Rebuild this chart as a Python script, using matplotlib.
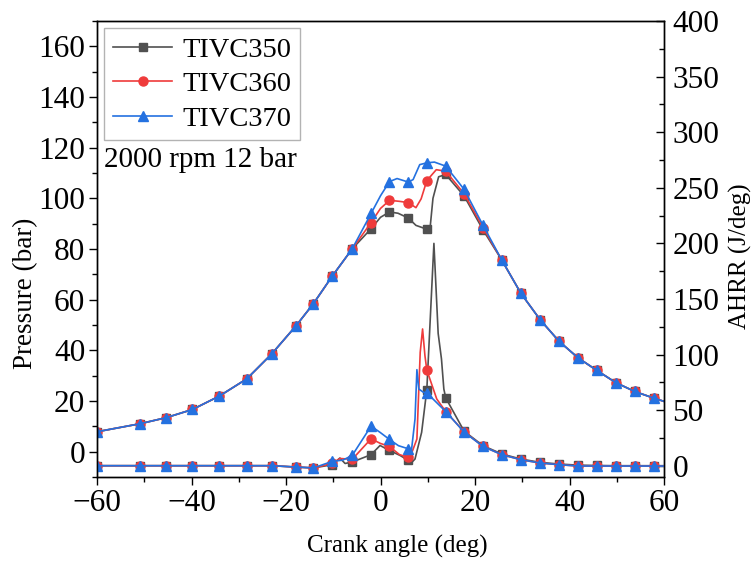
import numpy as np
import matplotlib.pyplot as plt

plt.rcParams['font.family'] = ['Liberation Serif', 'DejaVu Serif']

# crank angles where the markers sit (shared by all three cases)
marks = [-60.0, -50.8, -45.3, -39.8, -34.1, -28.3, -23.0, -17.9, -14.2, -10.2,
         -6.0, -2.0, 1.9, 5.9, 9.8, 13.8, 17.7, 21.7, 25.7, 29.7, 33.8, 37.8,
         41.8, 45.8, 49.8, 53.8, 57.8]

# pressure (bar)
p_ang_350 = [-60.0, -50.8, -45.3, -39.8, -34.1, -28.3, -23.0, -17.9, -14.2, -10.2,
             -6.0, -2.0, 0.0, 1.9, 3.7, 5.9, 7.5, 9.8, 10.5, 11.1, 12.3, 13.8,
             17.7, 21.7, 25.7, 29.7, 33.8, 37.8, 41.8, 45.8, 49.8, 53.8, 57.8, 60.0]
p_350 = [7.8, 11.0, 13.4, 16.6, 21.9, 28.7, 38.6, 49.6, 58.4, 69.3,
         80.0, 88.0, 92.5, 94.6, 94.1, 92.2, 89.3, 87.8, 88.5, 100.0, 108.5, 109.4,
         100.9, 87.5, 75.5, 62.5, 52.0, 43.5, 37.0, 32.0, 27.2, 23.7, 21.1, 19.8]

p_ang_360 = [-60.0, -50.8, -45.3, -39.8, -34.1, -28.3, -23.0, -17.9, -14.2, -10.2,
             -6.0, -2.0, 0.0, 1.9, 4.0, 5.9, 7.5, 8.6, 9.8, 11.8, 13.8,
             17.7, 21.7, 25.7, 29.7, 33.8, 37.8, 41.8, 45.8, 49.8, 53.8, 57.8, 60.0]
p_360 = [7.8, 11.0, 13.4, 16.6, 21.9, 28.7, 38.6, 49.6, 58.4, 69.3,
         80.0, 90.4, 96.0, 99.2, 98.8, 98.3, 96.3, 99.8, 107.0, 111.3, 110.7,
         101.8, 88.4, 75.5, 62.5, 52.0, 43.5, 37.0, 32.0, 27.2, 23.7, 21.1, 19.8]

p_ang_370 = [-60.0, -50.8, -45.3, -39.8, -34.1, -28.3, -23.0, -17.9, -14.2, -10.2,
             -6.0, -2.0, 0.0, 1.9, 3.5, 5.9, 6.9, 8.3, 9.8, 11.4, 13.8,
             17.7, 21.7, 25.7, 29.7, 33.8, 37.8, 41.8, 45.8, 49.8, 53.8, 57.8, 60.0]
p_370 = [7.8, 11.0, 13.4, 16.6, 21.9, 28.7, 38.6, 49.6, 58.4, 69.3,
         80.0, 94.0, 101.0, 106.6, 107.8, 106.4, 107.4, 113.3, 114.0, 114.3, 112.7,
         103.5, 89.3, 75.5, 62.5, 52.0, 43.5, 37.0, 32.0, 27.2, 23.7, 21.1, 19.8]

# apparent heat release rate (J/deg)
h_ang_350 = [-60.0, -50.8, -45.3, -39.8, -34.1, -28.3, -23.0, -17.9, -14.2, -10.2,
             -8.6, -7.5, -6.0, -2.0, -0.1, 1.9, 4.1, 5.9, 6.5, 7.3, 8.7, 9.8,
             11.3, 12.2, 12.9, 13.4, 13.8, 17.7, 21.7, 25.7, 29.7, 33.8, 37.8,
             41.8, 45.8, 49.8, 53.8, 57.8, 60.0]
h_350 = [0, 0, 0, 0, 0, 0, 0, -1.2, -2.0, 0.9,
         6.9, 2.0, 3.3, 9.9, 18.2, 13.7, 9.3, 4.8, 2.5, 6.0, 30.0, 68.4,
         200.0, 119.0, 96.0, 69.0, 61.0, 31.0, 18.0, 10.5, 6.0, 3.0, 1.5,
         0.5, 0.2, 0, 0, 0, 0]

h_ang_360 = [-60.0, -50.8, -45.3, -39.8, -34.1, -28.3, -23.0, -17.9, -14.2, -10.2,
             -8.6, -6.0, -2.0, 0.0, 1.9, 4.0, 5.9, 6.2, 7.7, 8.4, 8.9, 9.4, 9.8,
             11.9, 13.8, 17.7, 21.7, 25.7, 29.7, 33.8, 37.8, 41.8, 45.8, 49.8,
             53.8, 57.8, 60.0]
h_360 = [0, 0, 0, 0, 0, 0, 0, -1.2, -2.0, 2.0,
         6.5, 5.7, 24.2, 20.0, 17.3, 10.0, 7.5, 6.9, 24.0, 102.0, 123.0, 99.0, 86.0,
         60.0, 48.7, 30.5, 17.3, 9.9, 5.4, 2.4, 0.9, -0.3, -0.3, -0.3,
         -0.3, -0.3, -0.3]

h_ang_370 = [-60.0, -50.8, -45.3, -39.8, -34.1, -28.3, -23.0, -17.9, -14.2, -10.2,
             -8.0, -6.0, -2.0, -0.1, 1.9, 3.8, 5.9, 6.5, 7.3, 7.7, 8.1, 9.1, 9.8,
             13.8, 17.7, 21.7, 25.7, 29.7, 33.8, 37.8, 41.8, 45.8, 49.8, 53.8,
             57.8, 60.0]
h_370 = [0, 0, 0, 0, 0, 0, 0, -1.2, -2.0, 3.9,
         5.0, 9.2, 35.6, 30.0, 23.6, 18.0, 15.2, 12.0, 42.0, 86.4, 69.0, 66.0, 65.5,
         48.7, 30.2, 17.3, 9.9, 5.4, 2.4, 0.9, -0.3, -0.3, -0.3, -0.3,
         -0.3, -0.3]

cases = [
    ("TIVC350", "#505050", "s", 6.0, p_ang_350, p_350, h_ang_350, h_350),
    ("TIVC360", "#EF3B3B", "o", 6.5, p_ang_360, p_360, h_ang_360, h_360),
    ("TIVC370", "#2471E0", "^", 7.2, p_ang_370, p_370, h_ang_370, h_370),
]

fig = plt.figure(figsize=(7.55, 5.69), dpi=100)
ax = fig.add_axes([0.1285, 0.162, 0.751, 0.801])
ax2 = ax.twinx()

for name, color, mk, ms, pa, pv, ha, hv in cases:
    pa = np.asarray(pa)
    ha = np.asarray(ha)
    style = dict(color=color, lw=1.2, marker=mk, ms=ms, mfc=color, mec=color)
    ax.plot(pa, pv, label=name, markevery=list(np.where(np.isin(pa, marks))[0]), **style)
    ax2.plot(ha, hv, markevery=list(np.where(np.isin(ha, marks))[0]), **style)

fs_tick = 22.5
ax.set_xlim(-60, 60)
ax.set_ylim(-10, 170)
ax2.set_ylim(-10, 400)
ax.set_xticks(np.arange(-60, 61, 20))
ax.set_xticks(np.arange(-60, 61, 10), minor=True)
ax.set_yticks(np.arange(0, 161, 20))
ax.set_yticks(np.arange(-10, 171, 10), minor=True)
ax2.set_yticks(np.arange(0, 401, 50))
ax2.set_yticks(np.arange(0, 401, 25), minor=True)

ax.tick_params(axis='both', which='major', direction='out', length=6, width=1,
               labelsize=fs_tick, pad=2.5)
ax.tick_params(axis='both', which='minor', direction='out', length=3.5, width=1)
ax2.tick_params(axis='y', which='major', direction='in', length=6, width=1,
                labelsize=fs_tick, pad=6)
ax2.tick_params(axis='y', which='minor', direction='in', length=3.5, width=1)
for a in (ax, ax2):
    for s in a.spines.values():
        s.set_linewidth(1)

ax.set_xlabel("Crank angle (deg)", fontsize=18)
ax.xaxis.set_label_coords(0.529, -0.128)
ax.set_ylabel("Pressure (bar)", fontsize=19.5, labelpad=0)
ax.yaxis.label.set_y(0.403)
ax2.set_ylabel("AHRR (J/deg)", fontsize=18, labelpad=7)
ax2.yaxis.label.set_y(0.483)

leg = ax.legend(loc='upper left', fontsize=20.5, frameon=True, fancybox=False,
                edgecolor='#a0a0a0', handlelength=2.1, borderpad=0.3,
                labelspacing=0.3, handletextpad=0.35, borderaxespad=0.25)
leg.get_frame().set_linewidth(1)
ax.text(0.013, 0.695, "2000 rpm 12 bar", transform=ax.transAxes, fontsize=21, va='center')

fig.savefig("out.png", dpi=100)
